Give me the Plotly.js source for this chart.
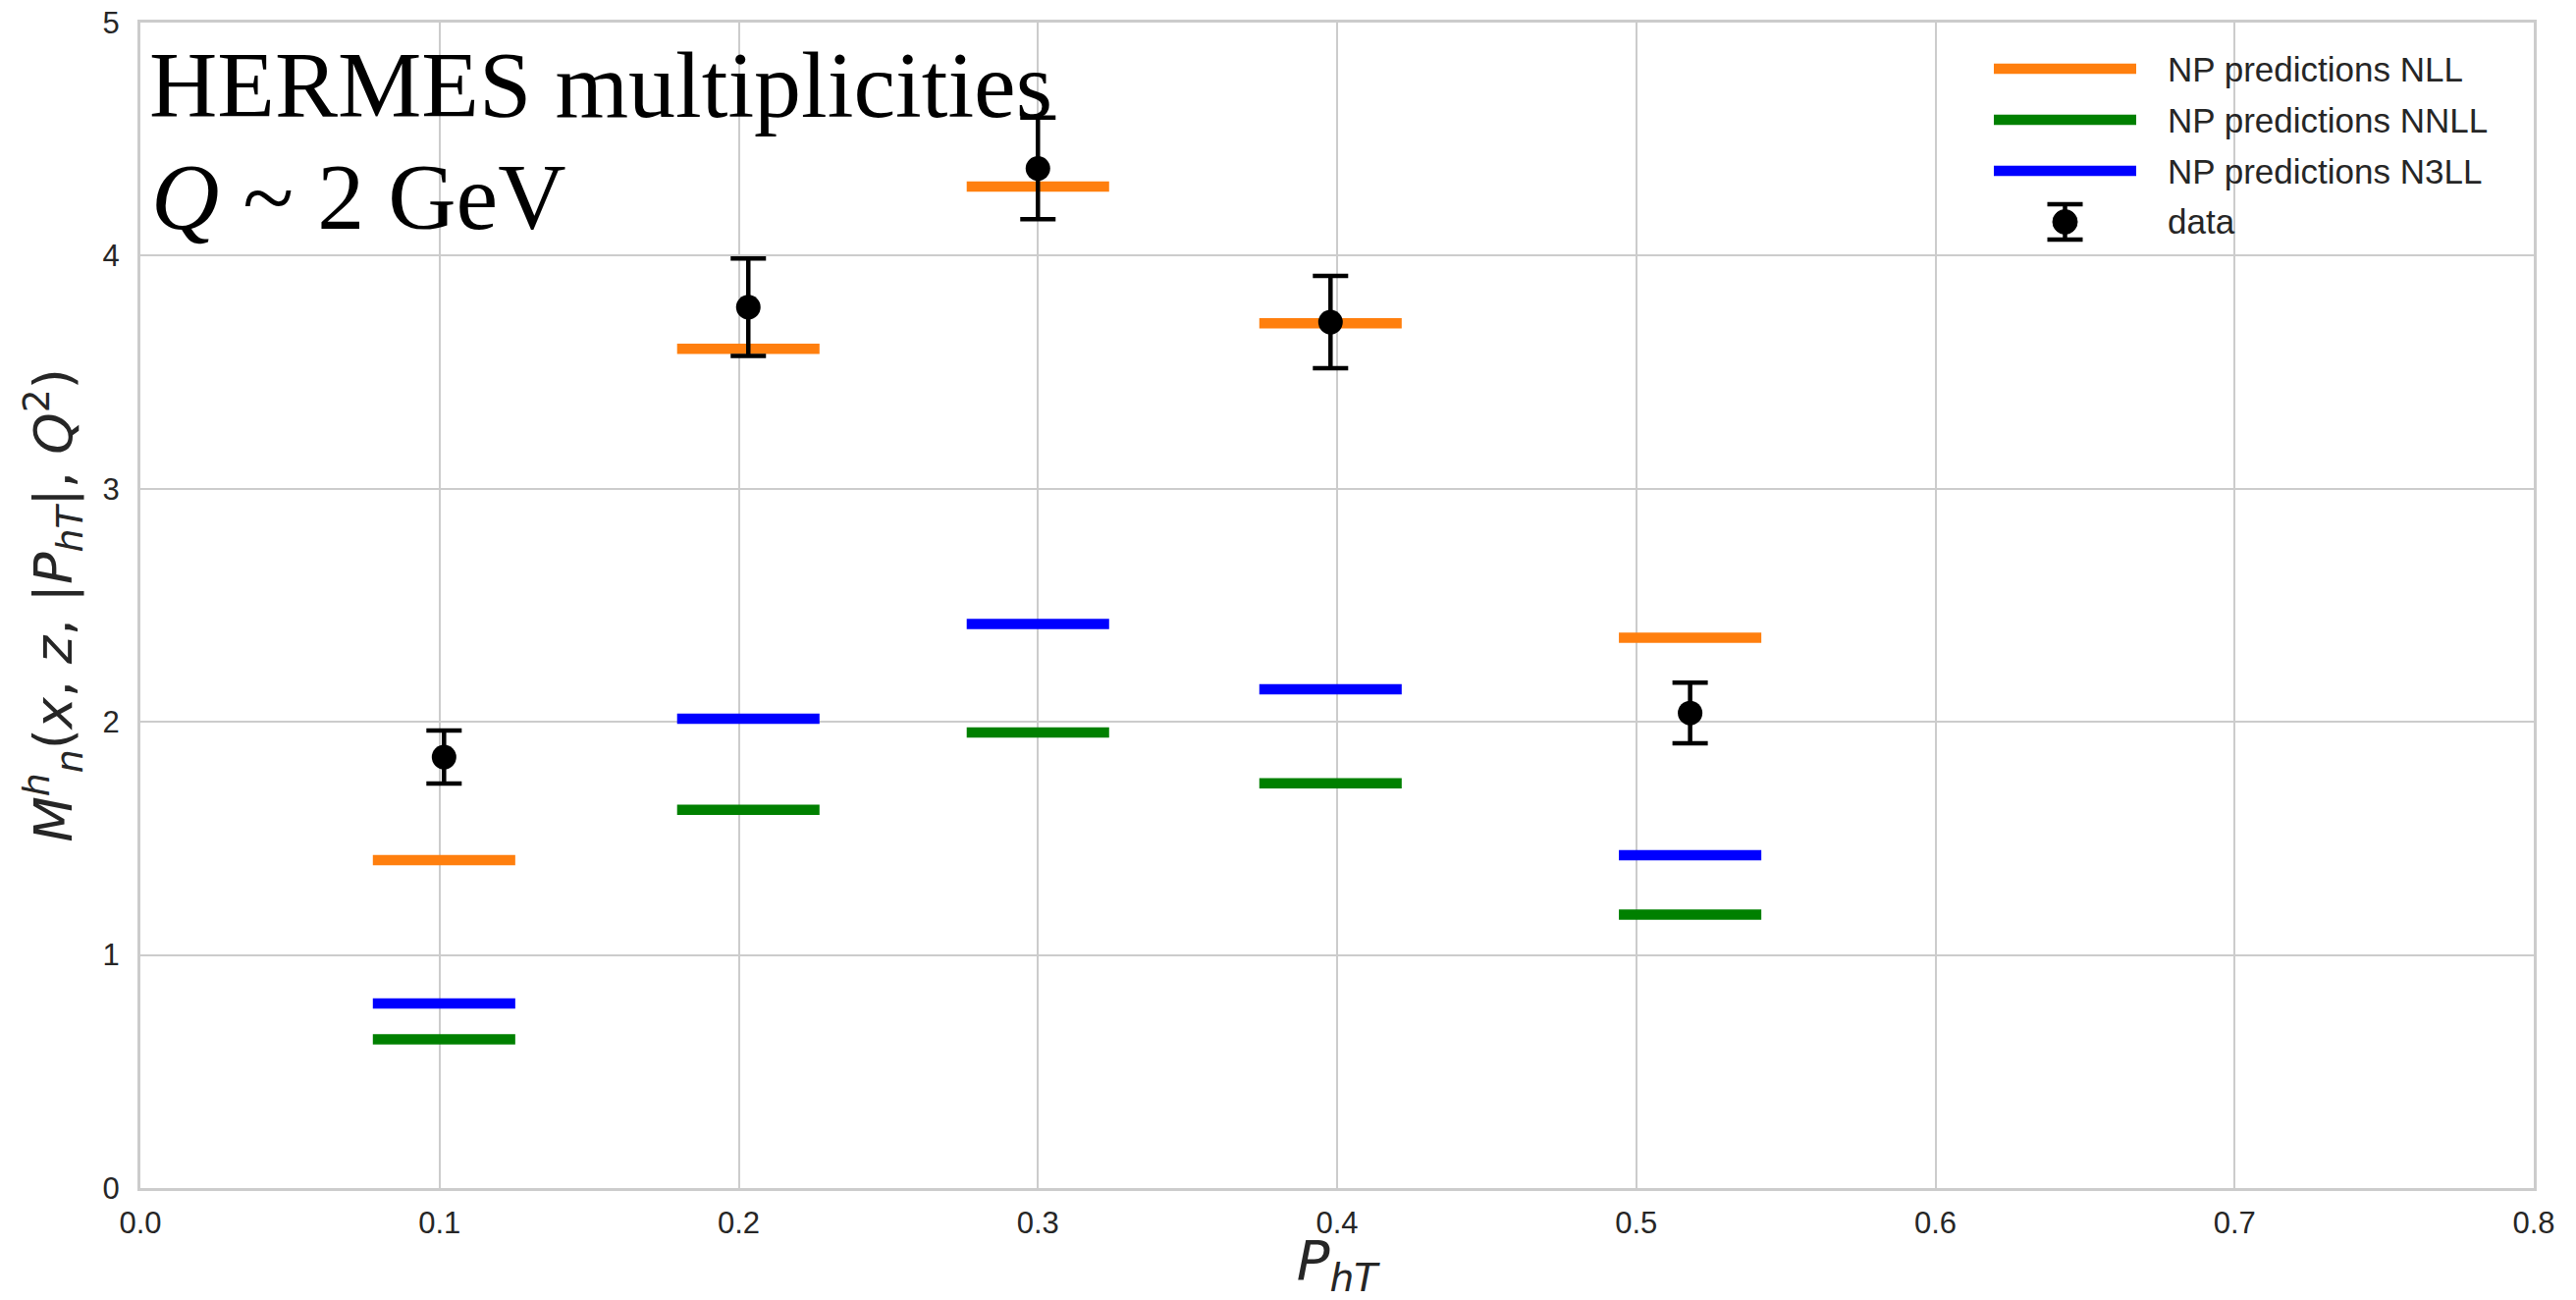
<!DOCTYPE html>
<html><head><meta charset="utf-8">
<script src="https://cdn.plot.ly/plotly-3.0.1.min.js"></script>
<style>html,body{margin:0;padding:0;background:#fff}</style>
</head><body>
<div id="chart" style="width:2624px;height:1324px"></div>
<script>
// ---- data ----
const pT        = [0.1015, 0.2032, 0.3000, 0.3978, 0.5180];
const dataVals  = [1.849, 3.779, 4.374, 3.715, 2.038];
const dataErr   = [0.114, 0.209, 0.218, 0.198, 0.130];
const predNLL   = [1.407, 3.600, 4.297, 3.710, 2.361];
const predNNLL  = [0.638, 1.623, 1.955, 1.737, 1.173];
const predN3LL  = [0.792, 2.013, 2.420, 2.140, 1.428];
const seriesNames = ['NP predictions NLL', 'NP predictions NNLL', 'NP predictions N3LL', 'data'];
const xTickVals = [0, 0.1, 0.2, 0.3, 0.4, 0.5, 0.6, 0.7, 0.8];
const yTickVals = [0, 1, 2, 3, 4, 5];
const titleLine1 = 'HERMES multiplicities';
const titleLine2 = '<i>Q</i> ~ 2 GeV';

// ---- styling ----
const halfWidth = 0.0238;
const colors = ['#ff7f0e', '#008000', '#0000ff', '#000000'];
const predLineWidth = 10.5;
const textColor = '#262626';
const gridColor = '#cccccc';

// plot-area geometry (px) for placing the title & legend
const L = 143, R = 43, T = 23, B = 114, W = 2624, H = 1324;
const PW = W - L - R, PH = H - T - B;
const px2x = p => (p - L) / PW;
const py2y = p => (H - B - p) / PH;

function segments(xs, ys) {
  const sx = [], sy = [];
  xs.forEach((x, i) => { sx.push(x - halfWidth, x + halfWidth, null); sy.push(ys[i], ys[i], null); });
  return {x: sx, y: sy};
}

const preds = [predNLL, predNNLL, predN3LL];
const traces = preds.map((vals, i) => {
  const s = segments(pT, vals);
  return {type: 'scatter', mode: 'lines', x: s.x, y: s.y, name: seriesNames[i],
          line: {color: colors[i], width: predLineWidth}, showlegend: false, hoverinfo: 'skip'};
});
traces.push({
  type: 'scatter', mode: 'markers', x: pT, y: dataVals, name: seriesNames[3], showlegend: false,
  marker: {color: '#000', size: 25},
  error_y: {type: 'data', array: dataErr, visible: true, color: '#000', thickness: 4.5, width: 18}
});

// ---- custom legend (long line samples as in the reference) ----
const shapes = [], annotations = [];
const legRows = [70, 122, 174, 226];
const legX0 = 2031, legX1 = 2176, legText = 2206;
for (let i = 0; i < 3; i++) {
  shapes.push({type: 'line', xref: 'paper', yref: 'paper', x0: px2x(legX0), x1: px2x(legX1),
               y0: py2y(legRows[i]), y1: py2y(legRows[i]), line: {color: colors[i], width: predLineWidth}});
}
const mx = (legX0 + legX1) / 2, my = legRows[3];
shapes.push({type: 'line', xref: 'paper', yref: 'paper', x0: px2x(mx), x1: px2x(mx), y0: py2y(my - 18), y1: py2y(my + 18), line: {color: '#000', width: 4.5}});
shapes.push({type: 'line', xref: 'paper', yref: 'paper', x0: px2x(mx - 18), x1: px2x(mx + 18), y0: py2y(my - 18), y1: py2y(my - 18), line: {color: '#000', width: 4.5}});
shapes.push({type: 'line', xref: 'paper', yref: 'paper', x0: px2x(mx - 18), x1: px2x(mx + 18), y0: py2y(my + 18), y1: py2y(my + 18), line: {color: '#000', width: 4.5}});
shapes.push({type: 'circle', xref: 'paper', yref: 'paper', x0: px2x(mx - 12.5), x1: px2x(mx + 12.5), y0: py2y(my - 12.5), y1: py2y(my + 12.5), fillcolor: '#000', line: {color: '#000', width: 1}});
for (let i = 0; i < 4; i++) {
  annotations.push({xref: 'paper', yref: 'paper', x: px2x(legText), y: py2y(legRows[i]), xanchor: 'left', yanchor: 'middle',
                    text: seriesNames[i], showarrow: false, font: {family: 'Liberation Sans, Arial, sans-serif', size: 35, color: textColor}});
}
annotations.push({xref: 'paper', yref: 'paper', x: px2x(150), y: py2y(86), xanchor: 'left', yanchor: 'middle',
                  text: titleLine1, showarrow: false, font: {family: 'Liberation Serif, Times New Roman, serif', size: 96, color: '#000'}});
annotations.push({xref: 'paper', yref: 'paper', x: px2x(152), y: py2y(200), xanchor: 'left', yanchor: 'middle',
                  text: titleLine2, showarrow: false, font: {family: 'Liberation Serif, Times New Roman, serif', size: 96, color: '#000'}});

const axisCommon = {
  showgrid: true, gridcolor: gridColor, gridwidth: 2, zeroline: false,
  showline: true, linecolor: gridColor, linewidth: 3, mirror: true,
  ticks: '', tickfont: {family: 'Liberation Sans, Arial, sans-serif', size: 31, color: textColor}
};

const layout = {
  width: W, height: H,
  margin: {l: L, r: R, t: T, b: B, pad: 0},
  paper_bgcolor: '#fff', plot_bgcolor: '#fff',
  showlegend: false,
  xaxis: Object.assign({}, axisCommon, {
    range: [0, 0.8], tickvals: xTickVals, tickformat: '.1f', ticklabelstandoff: 6,
    title: {text: '<i>P</i><sub><i>hT</i></sub>', font: {family: 'DejaVu Sans', size: 56, color: textColor}, standoff: 11}
  }),
  yaxis: Object.assign({}, axisCommon, {
    range: [0, 5], tickvals: yTickVals, ticklabelstandoff: 12,
    title: {text: '<i>M</i><sup><i>h</i></sup><sub><i>n</i></sub>(<i>x</i>, <i>z</i>, |<i>P</i><sub><i>hT</i></sub>|, <i>Q</i><sup>2</sup>)',
            font: {family: 'DejaVu Sans', size: 54, color: textColor}, standoff: 14}
  }),
  shapes: shapes,
  annotations: annotations
};

Plotly.newPlot('chart', traces, layout, {displayModeBar: false, staticPlot: true});
</script>
</body></html>
